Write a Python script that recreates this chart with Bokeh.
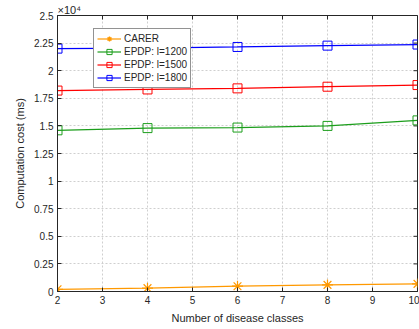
import math
from bokeh.plotting import figure
from bokeh.models import Range1d, FixedTicker, Legend, LegendItem
from bokeh.embed import file_html
from bokeh.resources import INLINE

classes = [2, 4, 6, 8, 10]
carer = [200, 300, 480, 600, 690]
epdp_1200 = [14600, 14800, 14850, 15000, 15500]
epdp_1500 = [18200, 18300, 18400, 18550, 18700]
epdp_1800 = [22000, 22050, 22150, 22270, 22370]

x_ticks = [2, 3, 4, 5, 6, 7, 8, 9, 10]
y_ticks = [0, 2500, 5000, 7500, 10000, 12500, 15000, 17500, 20000, 22500, 25000]
y_tick_labels = ["0", "0.25", "0.5", "0.75", "1", "1.25", "1.5", "1.75", "2", "2.25", "2.5"]
y_exponent = "×10⁴"

FONT = "Liberation Sans"
AX = "#262626"
X_MIN, X_MAX, Y_MIN, Y_MAX = 2, 10, 0, 25000

p = figure(width=419, height=329, output_backend="svg", toolbar_location=None,
           x_range=Range1d(X_MIN, X_MAX), y_range=Range1d(Y_MIN, Y_MAX),
           min_border_left=57, min_border_right=2, min_border_top=15, min_border_bottom=38)
p.background_fill_color = "white"
p.border_fill_color = "white"
p.outline_line_color = AX
p.outline_line_width = 1

p.title.text = y_exponent
p.title.align = "left"
p.title.offset = 0
p.title.standoff = 0
p.title.text_font = FONT
p.title.text_font_size = "11px"
p.title.text_font_style = "normal"
p.title.text_color = AX

for ax in (p.xaxis[0], p.yaxis[0]):
    ax.axis_line_color = AX
    ax.major_tick_line_color = AX
    ax.major_tick_in = 4
    ax.major_tick_out = 0
    ax.minor_tick_line_color = None
    ax.major_label_text_font = FONT
    ax.major_label_text_font_size = "10px"
    ax.major_label_text_color = AX
    ax.axis_label_text_font = FONT
    ax.axis_label_text_font_size = "11px"
    ax.axis_label_text_font_style = "normal"
    ax.axis_label_text_color = AX
    ax.major_label_standoff = 4

p.xaxis.ticker = FixedTicker(ticks=x_ticks)
p.yaxis.ticker = FixedTicker(ticks=y_ticks)
p.yaxis.major_label_overrides = {t: l for t, l in zip(y_ticks, y_tick_labels)}
p.xaxis.axis_label = "Number of disease classes"
p.yaxis.axis_label = "Computation cost (ms)"
p.xaxis.axis_label_standoff = 5
p.yaxis.axis_label_standoff = 5

for g in (p.xgrid[0], p.ygrid[0]):
    g.grid_line_color = "#cfcfcf"
    g.grid_line_dash = "2 2"
    g.grid_line_width = 1
p.xgrid.ticker = FixedTicker(ticks=x_ticks)
p.ygrid.ticker = FixedTicker(ticks=y_ticks)

# inner tick marks on the top and right edges of the box (clipped to the frame)
p.scatter([X_MAX] * len(y_ticks), y_ticks, marker="dash", size=8, line_color=AX, line_width=1)
p.scatter(x_ticks, [Y_MAX] * len(x_ticks), marker="dash", angle=math.pi / 2, size=8,
          line_color=AX, line_width=1)

ORANGE = "#ff9900"
GREEN = "#1c9e1c"
RED = "#ff0000"
BLUE = "#0000ff"

l0 = p.line(classes, carer, line_color=ORANGE, line_width=1.2)
m0 = p.scatter(classes, carer, marker="asterisk", size=11, line_color=ORANGE, line_width=1.2)
l1 = p.line(classes, epdp_1200, line_color=GREEN, line_width=1.2)
m1 = p.scatter(classes, epdp_1200, marker="square", size=9, line_color=GREEN, fill_color=None, line_width=1)
l2 = p.line(classes, epdp_1500, line_color=RED, line_width=1.2)
m2 = p.scatter(classes, epdp_1500, marker="square", size=9, line_color=RED, fill_color=None, line_width=1)
l3 = p.line(classes, epdp_1800, line_color=BLUE, line_width=1.2)
m3 = p.scatter(classes, epdp_1800, marker="square", size=9, line_color=BLUE, fill_color=None, line_width=1)

legend = Legend(items=[
    LegendItem(label="CARER", renderers=[l0, m0]),
    LegendItem(label="EPDP: l=1200", renderers=[l1, m1]),
    LegendItem(label="EPDP: l=1500", renderers=[l2, m2]),
    LegendItem(label="EPDP: l=1800", renderers=[l3, m3]),
], location=(36, 203))
legend.label_text_font = FONT
legend.label_text_font_size = "10px"
legend.label_text_color = AX
legend.label_standoff = 3
legend.label_height = 13
legend.glyph_height = 13
legend.glyph_width = 24
legend.spacing = 0
legend.padding = 3
legend.margin = 0
legend.border_line_color = AX
legend.border_line_width = 1
legend.background_fill_color = "white"
legend.background_fill_alpha = 1
p.add_layout(legend, "center")

open("out.html", "w").write(file_html(p, INLINE))
